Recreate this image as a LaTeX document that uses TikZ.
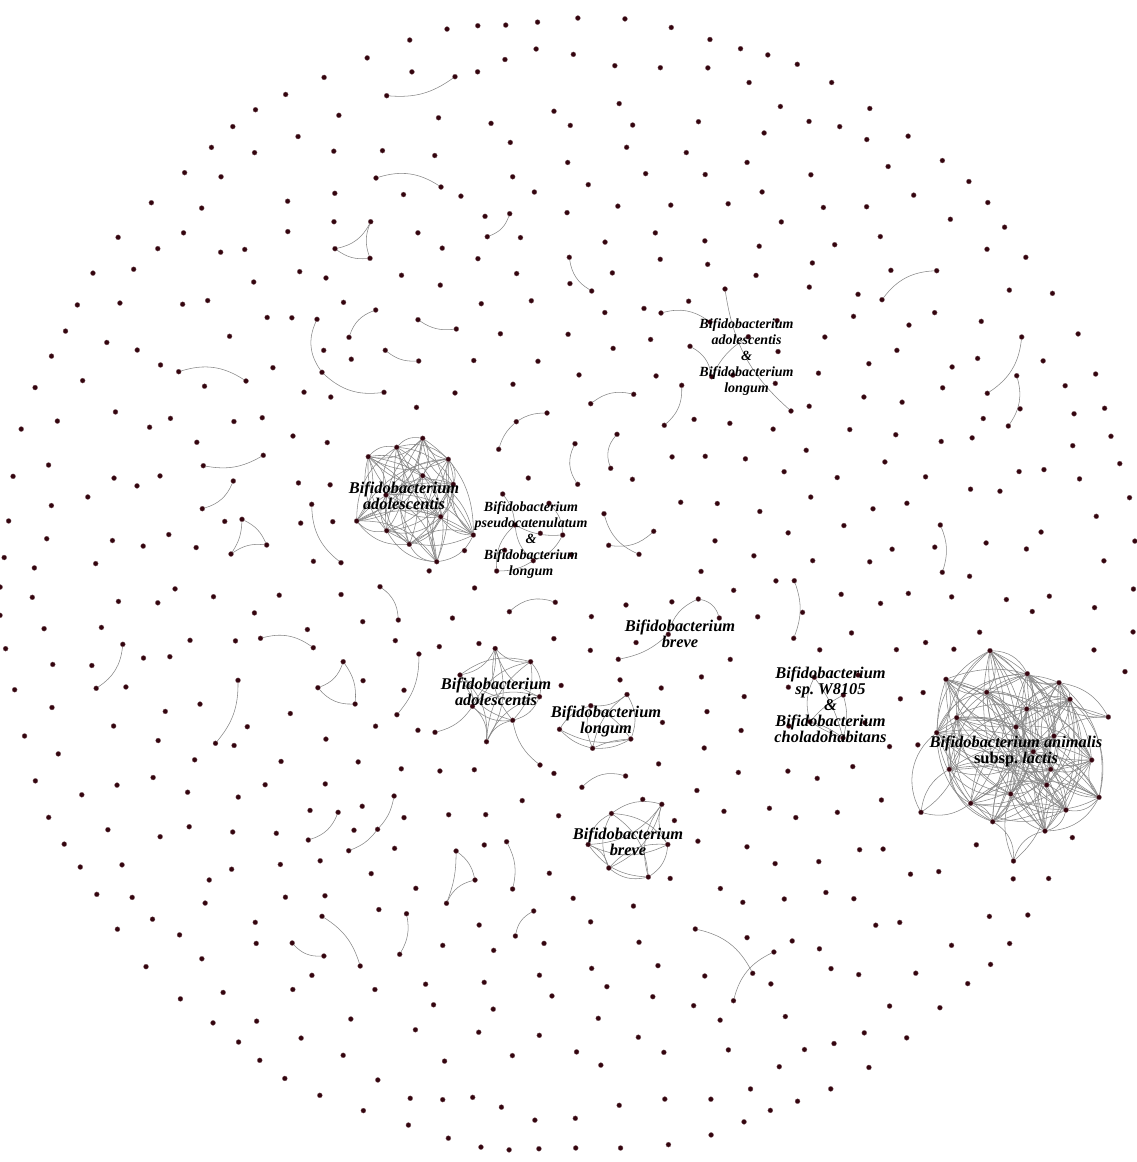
\documentclass[tikz,border=0pt]{standalone}
\usepackage{fontspec}
\setmainfont{Liberation Serif}
\definecolor{dotcol}{RGB}{52,4,14}
\definecolor{linkcol}{RGB}{135,135,135}
\pgfdeclarelayer{back}
\pgfsetlayers{back,main}
\newif\ifnear
% small components: name/x/y (pixel coordinates)
\newcommand\smallnodes{
  w1/814.3/677.3, w2/843.3/695, w3/810/721.7, w4/843/738,
  q1/502.7/494, q2/549/503.3, q3/515/525, q4/562.7/535, q5/533.3/560.7, q6/496.7/571,
  ta/725/289, tb/791/411, tc/690/346.3, td/711.7/376.7, te/748.3/336.7,
  k1/698.3/599, k2/719.3/618, k3/668.3/634.3, k4/618.3/659.3,
  p1a/386.7/95.7, p1b/455/76.7, p2a/376/178, p2b/441/187,
  t1a/335/248.7, t1b/370.7/221.7, t1c/370/258.3,
  p3a/487.3/236.7, p3b/509.7/213.7, p4a/569.3/257.3, p4b/591.7/291,
  p5a/375.7/310, p5b/349/337.3, p6a/418/319.7, p6b/456.3/329,
  p7a/385.3/350.3, p7b/418.7/361,
  c1a/317/319.3, c1b/322/372.3, c1c/384/392.3,
  p8a/178.7/371.7, p8b/246/381, p9a/203.3/465.7, p9b/263.3/455.3,
  p10a/233.3/481, p10b/202.3/508.7,
  t2a/242/519.3, t2b/266.7/545, t2c/231/554,
  p11a/311.7/504.3, p11b/341/562.7,
  c2a/547/413, c2b/516.3/421.7, c2c/498.7/449.3,
  p12a/590.7/403.7, p12b/633.7/394.3, p13a/575/443.7, p13b/577.7/484.3,
  p14a/617/434.3, p14b/610.7/468.3, p15a/604/513.7, p15b/639/554.3,
  p16a/608.7/545.3, p16b/653.7/531.3, p17a/661/313, p17b/710/322,
  p18a/681.7/385.3, p18b/664.3/425.3, p19a/882/299.7, p19b/936.7/270.7,
  p20a/1021.7/337, p20b/987.3/393.3, p21a/1016.7/375.7, p21b/1008.3/426,
  p22a/940.3/525, p22b/942.3/572.3, p23a/794.3/580.7, p23b/793.7/638.3,
  p24a/380/586.7, p24b/398.3/620, p25a/509.4/611.7, p25b/555.3/602.3,
  p26a/260.5/638.3, p26b/313.3/647.7, p27a/122.8/644.3, p27b/96.2/688.3,
  t3a/343.2/661.7, t3b/317.9/687.7, t3c/355.1/704,
  p28a/418.9/654, p28b/396.9/714.7, p29a/238/680.3, p29b/215.5/743.3,
  c3a/394.1/796, c3b/377.6/829.3, c3c/348.7/850.7,
  p30a/338.1/812.3, p30b/308.3/840,
  t4a/456.1/851, t4b/475/880, t4c/446.5/903.3,
  p31a/506.6/841.7, p31b/512.6/889, p32a/322/916.3, p32b/360.2/966,
  p33a/292.2/943, p33b/323.9/956, p34a/406.5/913.7, p34b/399.7/954.3,
  p35a/533.7/911, p35b/515.4/936, p36a/695.3/929, p36b/752.7/973.3,
  p37a/773.9/952, p37b/733.5/1000.7, p38a/625.6/776, p38b/581.9/787.3}
% B. animalis subsp. lactis cluster
\newcommand\animnodes{
  e1/990/650.7, e2/946/679.3, e3/1027.3/673.7, e4/1059/682.7, e5/986.7/692.3,
  e6/1070/699.3, e7/1026.7/709, e8/956.7/717.7, e9/1016/727, e10/936.7/732.7,
  e11/1054/736, e12/1033.3/751.7, e13/1091.7/760, e14/949.3/769.3,
  e15/1050.7/769.3, e16/1046.7/785, e17/1010.7/794, e18/1099/797.3,
  e19/970.7/803.3, e20/1066/810, e21/992.7/821.7, e22/1045/831,
  e23/1108.3/717, e24/921/812.3, e25/1013.5/861}
\newcommand\neartest[2]{%
  \ifdim\dimexpr#1pt-\x pt\relax<17pt
  \ifdim\dimexpr\x pt-#1pt\relax<17pt
  \ifdim\dimexpr#2pt-\y pt\relax<17pt
  \ifdim\dimexpr\y pt-#2pt\relax<17pt
    \global\neartrue
  \fi\fi\fi\fi}
% an unlinked node, kept clear of the clusters and small components
\newcommand\bgdot[3]{%
  \pgfmathtruncatemacro\isout{(veclen((#2-1015)/100,(#3-752)/100)<0.95)
    || (veclen((#2-410)/100,(#3-498)/100)<0.75)
    || (veclen((#2-495)/100,(#3-700)/100)<0.58)
    || (veclen((#2-595)/100,(#3-720)/100)<0.45)
    || (veclen((#2-628)/100,(#3-842)/100)<0.45)}%
  \global\nearfalse
  \ifnum\isout=0
    \foreach \nm/\x/\y in \smallnodes{\neartest{#2}{#3}}%
    \foreach \nm/\x/\y in \animnodes{\neartest{#2}{#3}}%
    \ifnear\else\node[blob] (#1) at (#2,#3) {};\fi
  \fi}

\begin{document}
\begin{tikzpicture}[x=1pt, y=-1pt,
    blob/.style={circle, fill=dotcol, draw=dotcol!60!white, line width=0.3pt,
                 inner sep=0pt, minimum size=5pt},
    link/.style={draw=linkcol, line width=0.55pt},
    lab/.style={align=center, text=black,
                font={\fontsize{16.4}{16}\selectfont\bfseries\itshape}},
    labs/.style={align=center, text=black,
                font={\fontsize{14}{16}\selectfont\bfseries\itshape}}
  ]
  \useasboundingbox (0,0) rectangle (1136,1162);

  % Small components and the big cluster
  \foreach \nm/\x/\y in \smallnodes {\node[blob] (\nm) at (\x,\y) {};}
  \foreach \nm/\x/\y in \animnodes {\node[blob] (\nm) at (\x,\y) {};}

  % Unlinked nodes: outer ring, second ring, inner spiral
  \foreach \n in {1,...,94}{
    \pgfmathsetmacro\aa{\n*3.829787+1.2*sin(\n*50)}
    \pgfmathsetmacro\rr{566+3*cos(\n*70)}
    \pgfmathsetmacro\px{568+\rr*cos(\aa)}
    \pgfmathsetmacro\py{585+\rr*sin(\aa)}
    \bgdot{o\n}{\px}{\py}
  }
  \foreach \n in {1,...,88}{
    \pgfmathsetmacro\aa{(\n+0.5)*4.090909+1.5*sin(\n*37)}
    \pgfmathsetmacro\rr{529+8*cos(\n*83)}
    \pgfmathsetmacro\px{568+\rr*cos(\aa)}
    \pgfmathsetmacro\py{585+\rr*sin(\aa)}
    \bgdot{m\n}{\px}{\py}
  }
  \foreach \n in {1,...,480}{
    \pgfmathsetmacro\rr{22.5*sqrt(\n-0.5)+4*sin(\n*23)}
    \pgfmathsetmacro\aa{360*(\n*0.381966-floor(\n*0.381966))+1.5*cos(\n*17)}
    \pgfmathsetmacro\px{568+\rr*cos(\aa)}
    \pgfmathsetmacro\py{585+\rr*sin(\aa)}
    \bgdot{u\n}{\px}{\py}
  }

  % Cluster: B. adolescentis (upper)
  \node[blob] (a1)  at (422.7,438.3) {};
  \node[blob] (a2)  at (396.7,447.3) {};
  \node[blob] (a3)  at (368.3,456.7) {};
  \node[blob] (a4)  at (448.3,459.3) {};
  \node[blob] (a5)  at (422.7,475.7) {};
  \node[blob] (a6)  at (453.3,484.3) {};
  \node[blob] (a7)  at (386,495) {};
  \node[blob] (a8)  at (440.7,516.7) {};
  \node[blob] (a9)  at (356.7,521) {};
  \node[blob] (a10) at (386.7,530.7) {};
  \node[blob] (a11) at (473.3,535) {};
  \node[blob] (a12) at (409.3,544.3) {};
  \node[blob] (a13) at (436.7,561.7) {};

  % Cluster: B. adolescentis (lower)
  \node[blob] (b1) at (495.2,648.5) {};
  \node[blob] (b2) at (530.6,661.7) {};
  \node[blob] (b3) at (460,675) {};
  \node[blob] (b4) at (539.5,696.7) {};
  \node[blob] (b5) at (472.5,706.3) {};
  \node[blob] (b6) at (512.7,720.3) {};
  \node[blob] (b7) at (486.5,741.7) {};
  \node[blob] (b8) at (435,732.3) {};
  \node[blob] (b9) at (540,765) {};

  % Cluster: B. longum
  \node[blob] (c1) at (627,694.5) {};
  \node[blob] (c2) at (590.8,705.7) {};
  \node[blob] (c3) at (559.5,729.3) {};
  \node[blob] (c4) at (630.8,739) {};
  \node[blob] (c5) at (592.6,748.3) {};

  % Cluster: B. breve (lower)
  \node[blob] (d1) at (661.8,804.3) {};
  \node[blob] (d2) at (611.5,813.5) {};
  \node[blob] (d3) at (588.2,844.5) {};
  \node[blob] (d4) at (667.8,844.5) {};
  \node[blob] (d5) at (608.8,868) {};
  \node[blob] (d6) at (648.3,877) {};

  % Links
  \begin{pgfonlayer}{back}
    \foreach \i in {1,...,12}{
      \pgfmathtruncatemacro\k{\i+1}
      \foreach \j in {\k,...,13}{
        \pgfmathtruncatemacro\bb{ifthenelse(mod(\i+\j,2)==0,28,-28)}
        \draw[link] (a\i) to[bend left=\bb] (a\j);
      }
    }
    \foreach \i in {1,...,6}{
      \pgfmathtruncatemacro\k{\i+1}
      \foreach \j in {\k,...,7}{
        \pgfmathtruncatemacro\bb{ifthenelse(mod(\i+\j,2)==0,25,-25)}
        \draw[link] (b\i) to[bend left=\bb] (b\j);
      }
    }
    \foreach \i in {1,...,5}{
      \pgfmathtruncatemacro\k{\i+1}
      \foreach \j in {\k,...,6}{
        \pgfmathtruncatemacro\bb{ifthenelse(mod(\i+\j,2)==0,25,-25)}
        \draw[link] (d\i) to[bend left=\bb] (d\j);
      }
    }
    \foreach \i in {1,...,21}{
      \pgfmathtruncatemacro\k{\i+1}
      \foreach \j in {\k,...,22}{
        \pgfmathtruncatemacro\keep{mod(\i*3+\j*5,7)<5}
        \pgfmathtruncatemacro\bb{ifthenelse(mod(\i+\j,2)==0,30,-30)}
        \ifnum\keep=1 \draw[link] (e\i) to[bend left=\bb] (e\j);\fi
      }
    }
    \foreach \u/\v/\b in {
        b8/b5/-20, b6/b9/-20,
        c1/c2/20, c1/c4/25, c1/c5/-20, c2/c4/15, c2/c5/-20, c3/c2/20,
        c3/c5/-15, c3/c4/-20, c4/c5/15, c4/c5/-10,
        e23/e4/-25, e23/e6/20, e23/e11/-20, e23/e3/30, e23/e7/-15,
        e24/e14/25, e24/e19/-25, e24/e10/40, e24/e8/-35,
        e25/e22/30, e25/e21/-30, e25/e17/20, e25/e16/-25,
        w1/w3/-20, w1/w4/10, w2/w3/-10, w2/w4/15, w3/w4/10, w3/w4/-5,
        q1/q3/15, q2/q4/20, q3/q4/-15, q3/q5/-20, q4/q5/20, q6/q3/25, q6/q5/-15,
        ta/tb/-20, tc/td/25, td/te/15,
        k1/k2/30, k1/k3/-25, k3/k4/15,
        p1a/p1b/-20, p2a/p2b/25, t1a/t1b/-25, t1b/t1c/-20, t1a/t1c/-20,
        p3a/p3b/-25, p4a/p4b/-25, p5a/p5b/-25, p6a/p6b/-20, p7a/p7b/-20,
        c1a/c1b/-30, c1b/c1c/-25, p8a/p8b/25, p9a/p9b/-20, p10a/p10b/25,
        t2a/t2b/20, t2a/t2c/15, t2c/t2b/20, p11a/p11b/-25,
        c2a/c2b/-15, c2b/c2c/-15, p12a/p12b/25, p13a/p13b/-30, p14a/p14b/-30,
        p15a/p15b/-25, p16a/p16b/-25, p17a/p17b/25, p18a/p18b/25,
        p19a/p19b/25, p20a/p20b/25, p21a/p21b/25, p22a/p22b/20, p23a/p23b/20,
        p24a/p24b/25, p25a/p25b/30, p26a/p26b/25, p27a/p27b/25,
        t3a/t3b/25, t3a/t3c/20, t3b/t3c/-25, p28a/p28b/20, p29a/p29b/20,
        c3a/c3b/15, c3b/c3c/15, p30a/p30b/25, t4a/t4b/20, t4a/t4c/10,
        t4b/t4c/-25, p31a/p31b/20, p32a/p32b/20, p33a/p33b/-25,
        p34a/p34b/20, p35a/p35b/-25, p36a/p36b/25, p37a/p37b/-25,
        p38a/p38b/-30}
      \draw[link] (\u) to[bend left=\b] (\v);
  \end{pgfonlayer}

  % Labels
  \node[lab]  (ladol1)  at (404,496)   {Bifidobacterium\\adolescentis};
  \node[labs] (lpseudo) at (531,540)   {Bifidobacterium\\pseudocatenulatum\\\&\\Bifidobacterium\\longum};
  \node[labs] (ladlong) at (746.5,357) {Bifidobacterium\\adolescentis\\\&\\Bifidobacterium\\longum};
  \node[lab]  (lbreve1) at (680,634)   {Bifidobacterium\\breve};
  \node[lab]  (ladol2)  at (496,692)   {Bifidobacterium\\adolescentis};
  \node[lab]  (llong)   at (606,721)   {Bifidobacterium\\longum};
  \node[lab]  (lw8105)  at (830.5,705) {Bifidobacterium\\sp.\ W8105\\\&\\Bifidobacterium\\choladohabitans};
  \node[lab]  (lanim)   at (1016,751)  {Bifidobacterium animalis\\{\upshape subsp.}\ lactis};
  \node[lab]  (lbreve2) at (628,842)   {Bifidobacterium\\breve};
\end{tikzpicture}
\end{document}
